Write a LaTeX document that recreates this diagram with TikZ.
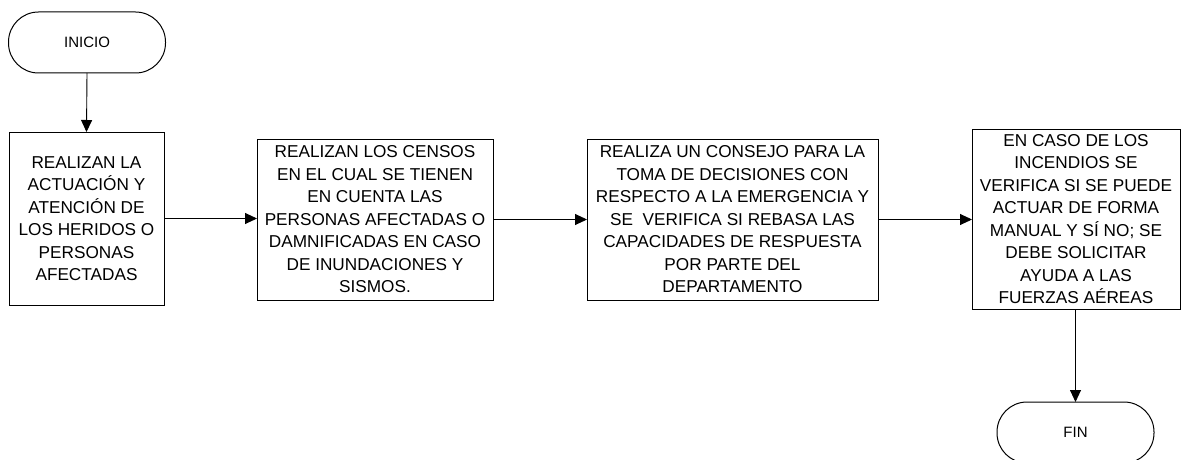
\documentclass[tikz,border=0pt]{standalone}
\usepackage{fontspec}
\setmainfont{Liberation Sans}
\usetikzlibrary{arrows.meta}
\tikzset{
  every node/.style={inner sep=0pt, outer sep=0pt},
  term/.style={draw, line width=1pt, rounded corners=30pt, minimum width=157pt, minimum height=61pt, font=\fontsize{15}{17}\selectfont},
  proc/.style={draw, line width=1pt, align=center, font=\fontsize{17.2}{22.5}\selectfont},
  link/.style={line width=0.9pt, -{Triangle[length=12pt,width=11pt]}}
}
\begin{document}
\begin{tikzpicture}[x=1pt,y=-1pt]
\useasboundingbox (0,0) rectangle (1181,460);
\node[term] (inicio) at (87,42.5) {INICIO};
\node[proc, minimum width=155pt, minimum height=173pt] (b1) at (86.5,218.5)
  {REALIZAN LA\\ACTUACIÓN Y\\ATENCIÓN DE\\LOS HERIDOS O\\PERSONAS\\AFECTADAS};
\node[proc, minimum width=236pt, minimum height=161pt] (b2) at (375,219.5)
  {REALIZAN LOS CENSOS\\EN EL CUAL SE TIENEN\\EN CUENTA LAS\\PERSONAS AFECTADAS O\\DAMNIFICADAS EN CASO\\DE INUNDACIONES Y\\SISMOS.};
\node[proc, minimum width=291pt, minimum height=161pt] (b3) at (732.5,219.5)
  {REALIZA UN CONSEJO PARA LA\\TOMA DE DECISIONES CON\\RESPECTO A LA EMERGENCIA Y\\SE\ \ VERIFICA SI REBASA LAS\\CAPACIDADES DE RESPUESTA\\POR PARTE DEL\\DEPARTAMENTO};
\node[proc, minimum width=208pt, minimum height=180pt] (b4) at (1076,219)
  {EN CASO DE LOS\\INCENDIOS SE\\VERIFICA SI SE PUEDE\\ACTUAR DE FORMA\\MANUAL Y SÍ NO; SE\\DEBE SOLICITAR\\AYUDA A LAS\\FUERZAS AÉREAS};
\node[term] (fin) at (1075.5,432.5) {FIN};
\draw[link] (inicio.south) -- (b1.north);
\draw[link] (b1.east) -- (b2.west |- b1.east);
\draw[link] (b2.east) -- (b3.west);
\draw[link] (b3.east) -- (b4.west |- b3.east);
\draw[link] (b4.south -| fin.north) -- (fin.north);
\end{tikzpicture}
\end{document}
